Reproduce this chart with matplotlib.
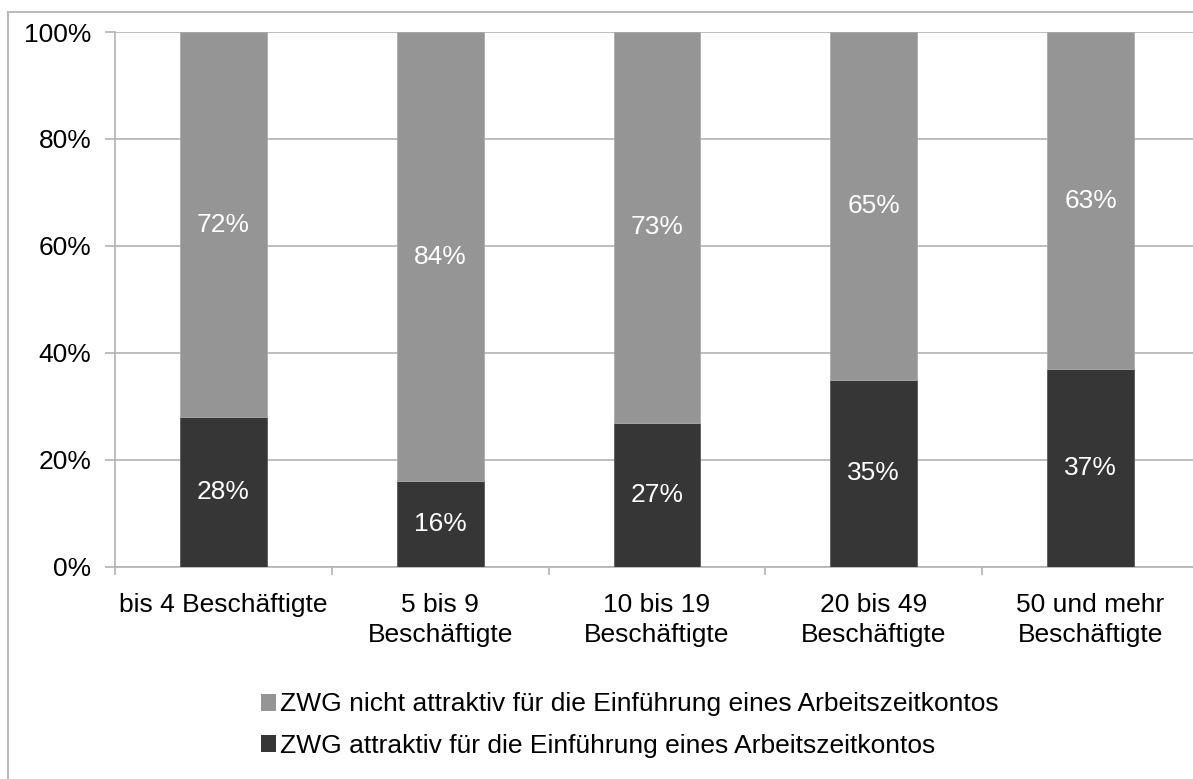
import matplotlib.pyplot as plt
from matplotlib.patches import Patch
from matplotlib.ticker import PercentFormatter, FixedLocator

plt.rcParams['font.family'] = ['Liberation Sans', 'DejaVu Sans']

categories = ['bis 4 Beschäftigte', '5 bis 9\nBeschäftigte', '10 bis 19\nBeschäftigte',
              '20 bis 49\nBeschäftigte', '50 und mehr\nBeschäftigte']
attraktiv = [28, 16, 27, 35, 37]
nicht_attraktiv = [72, 84, 73, 65, 63]
labels = ['ZWG nicht attraktiv für die Einführung eines Arbeitszeitkontos',
          'ZWG attraktiv für die Einführung eines Arbeitszeitkontos']

dark = '#363636'
light = '#959595'
grid_c = '#b3b3b3'
fs = 19

fig = plt.figure(figsize=(11.93, 7.79), dpi=100)
ax = fig.add_axes([115 / 1193, 1 - 567 / 779, 1084 / 1193, 535 / 779])

x = range(len(categories))
ax.bar(x, attraktiv, width=0.4, color=dark, edgecolor='#5a5a5a', linewidth=0.6, zorder=3)
ax.bar(x, nicht_attraktiv, width=0.4, bottom=attraktiv, color=light,
       edgecolor='#aaaaaa', linewidth=0.6, zorder=3)

for i in x:
    ax.text(i, attraktiv[i] / 2, f'{attraktiv[i]}%', color='white', fontsize=fs,
            ha='center', va='center', zorder=4)
    ax.text(i, attraktiv[i] + nicht_attraktiv[i] / 2, f'{nicht_attraktiv[i]}%', color='white',
            fontsize=fs, ha='center', va='center', zorder=4)

ax.set_xlim(-0.5, len(categories) - 0.5)
ax.set_ylim(0, 100)
ax.set_yticks(range(0, 101, 20))
ax.yaxis.set_major_formatter(PercentFormatter(decimals=0))
ax.yaxis.grid(True, color=grid_c, linewidth=1.2, zorder=0)

# category labels sit between the boundary ticks
ax.set_xticks(list(x))
ax.set_xticklabels(categories, fontsize=fs, linespacing=1.3)
ax.tick_params(axis='x', length=0, pad=19)
ax.xaxis.set_minor_locator(FixedLocator([i - 0.5 for i in range(len(categories) + 1)]))
ax.tick_params(axis='x', which='minor', length=6, color=grid_c, width=1.2)
ax.tick_params(axis='y', length=7, color=grid_c, width=1.2, labelsize=fs, pad=10)

for side in ['top', 'right']:
    ax.spines[side].set_visible(False)
for side in ['left', 'bottom']:
    ax.spines[side].set_color(grid_c)
    ax.spines[side].set_linewidth(1.2)

handles = [Patch(facecolor=light), Patch(facecolor=dark)]
fig.legend(handles, labels, loc='center left', bbox_to_anchor=(250 / 1193, 1 - 725 / 779),
           frameon=False, fontsize=fs, handlelength=0.6, handleheight=0.6,
           handletextpad=0.15, labelspacing=0.65, borderaxespad=0)

# outer chart border
fig.add_artist(plt.Line2D([8 / 1193, 8 / 1193], [0, 1 - 12 / 779], color='#bbbbbb',
                          linewidth=1.5, transform=fig.transFigure))
fig.add_artist(plt.Line2D([8 / 1193, 1], [1 - 12 / 779, 1 - 12 / 779], color='#bbbbbb',
                          linewidth=1.5, transform=fig.transFigure))

fig.savefig('out.png', dpi=100)
